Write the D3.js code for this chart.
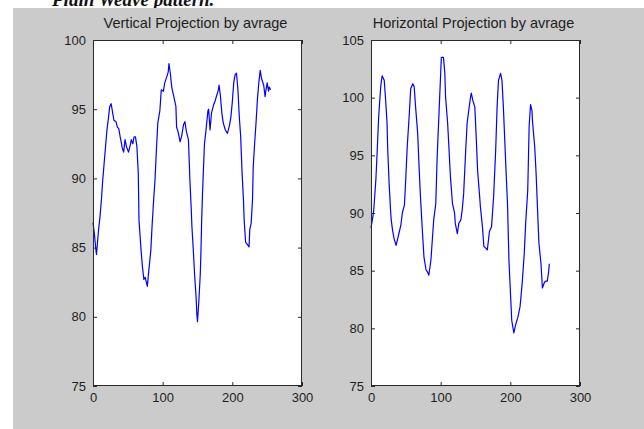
<!DOCTYPE html>
<html>
<head>
<meta charset="utf-8">
<script src="https://cdn.jsdelivr.net/npm/d3@7"></script>
<style>
  html, body { margin: 0; padding: 0; background: #fff; }
  svg { display: block; }
  text { font-family: "Liberation Sans", Arial, sans-serif; }
</style>
</head>
<body>
<script>
// values
var xTicks = [0, 100, 200, 300];
var vertYTicks = [75, 80, 85, 90, 95, 100];
var horzYTicks = [75, 80, 85, 90, 95, 100, 105];

var vertX = [0, 2, 4, 5, 8, 10, 12, 14, 16, 18, 20, 22, 24, 26, 28, 30, 33, 35, 37, 39, 41, 42, 44,
    46, 48, 51, 53, 55, 57, 59, 61, 63, 65, 66, 69, 71, 73, 75, 78, 80, 83, 85, 87, 89, 91, 93, 96,
    98, 101, 103, 106, 108, 109, 111, 113, 116, 119, 120, 122, 125, 127, 130, 132, 134, 137, 139,
    141, 142, 144, 146, 148, 149, 150, 152, 154, 155, 156, 157, 158, 160, 162, 165, 166, 168, 170,
    173, 175, 177, 180, 181, 183, 185, 187, 190, 193, 196, 198, 200, 202, 204, 206, 208, 210, 212,
    214, 216, 217, 219, 222, 224, 225, 227, 229, 230, 232, 234, 236, 238, 240, 242, 245, 247, 248,
    250, 252, 253, 255];
var vertY = [86.8, 86.0, 84.9, 84.5, 86.3, 87.2, 88.4, 89.9, 91.1, 92.3, 93.5, 94.3, 95.2, 95.4,
    94.8, 94.2, 94.1, 93.7, 93.6, 93.0, 92.5, 92.2, 91.9, 92.8, 92.3, 91.9, 92.3, 92.8, 92.5, 93.0,
    93.0, 92.3, 90.4, 87.0, 84.8, 83.6, 82.7, 82.85, 82.2, 83.3, 84.8, 86.75, 88.4, 89.9, 92.05,
    94.0, 94.9, 96.4, 96.3, 96.9, 97.35, 97.7, 98.3, 97.6, 96.6, 95.9, 95.2, 93.7, 93.4, 92.65,
    93.0, 93.9, 94.1, 93.4, 92.8, 90.0, 87.8, 86.5, 84.8, 82.9, 81.45, 80.25, 79.65, 81.2, 83.1,
    84.8, 87.0, 88.6, 90.0, 92.5, 93.4, 94.9, 95.0, 93.5, 94.7, 95.3, 95.55, 95.9, 96.4, 96.75,
    95.9, 94.7, 94.0, 93.5, 93.25, 93.85, 94.45, 95.55, 96.9, 97.5, 97.6, 96.4, 94.45, 93.0, 90.4,
    88.4, 87.0, 85.4, 85.2, 85.05, 86.3, 86.75, 88.5, 90.85, 92.5, 94.0, 95.7, 96.9, 97.8, 97.2,
    96.75, 95.9, 96.3, 96.9, 96.3, 96.6, 96.4];

var horzX = [0, 3, 4, 7, 9, 11, 14, 16, 19, 21, 23, 24, 26, 28, 29, 31, 33, 36, 38, 40, 43, 45,
    48, 50, 52, 55, 57, 60, 62, 64, 67, 69, 71, 74, 76, 79, 81, 83, 86, 88, 90, 93, 95, 98, 100,
    101, 104, 106, 107, 110, 112, 114, 117, 120, 121, 124, 126, 129, 131, 133, 136, 138, 141, 143,
    144, 146, 149, 151, 153, 156, 157, 160, 162, 164, 167, 170, 173, 176, 179, 181, 183, 186, 188,
    190, 192, 194, 196, 198, 200, 202, 205, 208, 211, 214, 217, 220, 222, 225, 227, 229, 231, 232,
    235, 237, 239, 241, 244, 246, 249, 251, 253, 255, 256];
var horzY = [88.7, 89.8, 90.3, 92.9, 95.5, 98.35, 101.0, 101.9, 101.5, 99.8, 97.8, 95.5, 92.6,
    90.3, 89.4, 88.5, 87.8, 87.2, 87.7, 88.2, 89.0, 90.0, 90.7, 93.1, 95.75, 98.6, 100.8, 101.2,
    100.95, 99.2, 96.9, 94.0, 91.4, 88.2, 86.2, 85.06, 84.9, 84.6, 85.9, 87.66, 89.4, 90.8, 94.9,
    99.2, 102.1, 103.5, 103.5, 102.1, 100.1, 97.8, 95.5, 93.15, 90.8, 90.0, 89.1, 88.2, 89.1, 89.4,
    90.3, 91.7, 95.5, 97.8, 99.2, 100.1, 100.4, 99.8, 99.2, 96.6, 93.7, 91.4, 90.55, 88.8, 87.1,
    87.0, 86.8, 88.4, 88.8, 91.4, 95.5, 99.2, 101.5, 102.1, 101.5, 99.2, 96.3, 93.4, 90.7, 85.9,
    83.3, 80.7, 79.6, 80.4, 81.0, 81.9, 83.9, 86.5, 89.1, 92.0, 97.5, 99.4, 98.9, 97.8, 95.75,
    93.4, 90.4, 87.4, 85.6, 83.5, 84.0, 84.1, 84.1, 84.9, 85.6];

var panels = [
    { title: "Vertical Projection by avrage", xs: vertX, ys: vertY, yTicks: vertYTicks, left: 93 },
    { title: "Horizontal Projection by avrage", xs: horzX, ys: horzY, yTicks: horzYTicks, left: 371 }
];

var width = 644, height = 429,
    axW = 209, axTop = 40, axBottom = 386,
    tick = 4;

var svg = d3.select("body").append("svg")
    .attr("width", width)
    .attr("height", height);

svg.append("rect").attr("width", width).attr("height", height).attr("fill", "#fff");

// caption cut off by the crop
svg.append("text")
    .attr("x", 52)
    .attr("y", 6)
    .style("font-family", "'Liberation Serif', 'Times New Roman', serif")
    .style("font-style", "italic")
    .style("font-weight", "bold")
    .style("font-size", "19px")
    .attr("fill", "#111")
    .text("Plain Weave pattern.");

// figure background
svg.append("rect")
    .attr("x", 13).attr("y", 8)
    .attr("width", width - 13).attr("height", height - 8)
    .attr("fill", "#cbcbcb");

panels.forEach(function(p) {
    var x = d3.scaleLinear().domain([0, 300]).range([p.left, p.left + axW]);
    var yTicks = p.yTicks;
    var y = d3.scaleLinear()
        .domain([yTicks[0], yTicks[yTicks.length - 1]])
        .range([axBottom, axTop]);

    var g = svg.append("g");

    g.append("rect")
        .attr("x", p.left).attr("y", axTop)
        .attr("width", axW).attr("height", axBottom - axTop)
        .attr("fill", "#fff");

    var line = d3.line()
        .x(function(d, i) { return x(p.xs[i]); })
        .y(function(d) { return y(d); });

    g.append("path")
        .datum(p.ys)
        .attr("d", line)
        .attr("fill", "none")
        .attr("stroke", "#0000ff")
        .attr("stroke-width", 1.2)
        .attr("stroke-linejoin", "round");

    var axes = [
        { ax: d3.axisBottom(x).tickValues(xTicks), t: "translate(0," + axBottom + ")", labels: true },
        { ax: d3.axisTop(x).tickValues(xTicks), t: "translate(0," + axTop + ")", labels: false },
        { ax: d3.axisLeft(y).tickValues(yTicks), t: "translate(" + p.left + ",0)", labels: true },
        { ax: d3.axisRight(y).tickValues(yTicks), t: "translate(" + (p.left + axW) + ",0)", labels: false }
    ];

    axes.forEach(function(a) {
        a.ax.tickSize(-tick).tickPadding(7);
        if (!a.labels) a.ax.tickFormat("");
        var ag = g.append("g").attr("transform", a.t).call(a.ax);
        ag.select(".domain").remove();
        ag.selectAll("line").attr("stroke", "#2a2a2a");
        ag.selectAll("text")
            .style("font-family", "'Liberation Sans', Arial, sans-serif")
            .style("font-size", "13px")
            .attr("fill", "#1e1e1e");
    });

    g.append("rect")
        .attr("x", p.left + 0.5).attr("y", axTop + 0.5)
        .attr("width", axW - 1).attr("height", axBottom - axTop - 1)
        .attr("fill", "none")
        .attr("stroke", "#2a2a2a")
        .attr("stroke-width", 1);

    g.append("text")
        .attr("x", p.left + axW / 2 - 2)
        .attr("y", 28)
        .attr("text-anchor", "middle")
        .style("font-size", "14.5px")
        .attr("fill", "#1e1e1e")
        .text(p.title);
});
</script>
</body>
</html>
